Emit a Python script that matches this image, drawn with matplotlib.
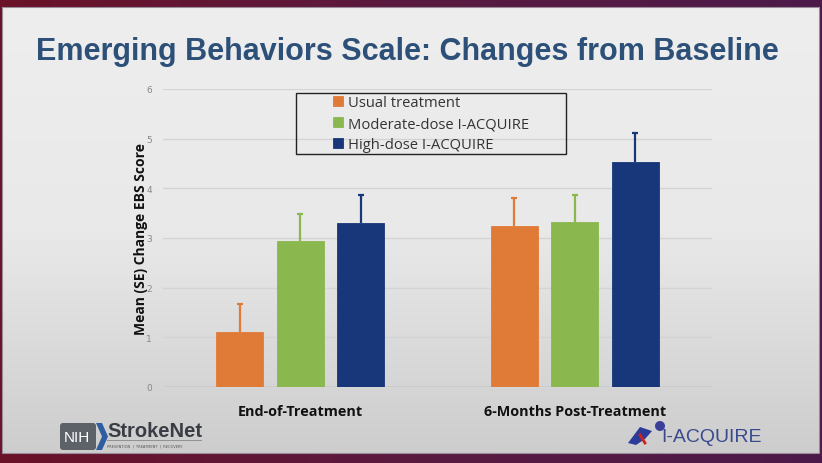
import numpy as np
import matplotlib.pyplot as plt
from matplotlib.colors import LinearSegmentedColormap
from matplotlib.patches import Rectangle, FancyBboxPatch, Polygon, Circle

# data
categories = ["End-of-Treatment", "6-Months Post-Treatment"]
series = ["Usual treatment", "Moderate-dose I-ACQUIRE", "High-dose I-ACQUIRE"]
usual = [1.11, 3.24]
moderate = [2.93, 3.32]
high = [3.30, 4.53]
usual_se = [0.56, 0.56]
moderate_se = [0.55, 0.54]
high_se = [0.56, 0.58]
yticks = [0, 1, 2, 3, 4, 5, 6]

colors = ["#E07B37", "#8BB74F", "#17377A"]

W, H = 822, 464
fig = plt.figure(figsize=(W / 100, H / 100), dpi=100)
fig.patch.set_facecolor("#4A0E22")

# slide background with a soft vertical gradient
bg = fig.add_axes([0, 0, 1, 1])
bg.set_xlim(0, W)
bg.set_ylim(H, 0)
bg.axis("off")
grad = np.linspace(0, 1, 256)[:, None]
frame = np.linspace(0, 1, 256)[None, :] * np.ones((64, 1))
bg.imshow(frame, cmap=LinearSegmentedColormap.from_list("fr", ["#6A1228", "#5A1A40", "#4C1A4A"]),
          extent=[0, W, H, 0], aspect="auto")
bg.imshow(grad, cmap=LinearSegmentedColormap.from_list("sl", ["#EEEEEE", "#E9E9E9", "#CDCDCD"]),
          extent=[2, 819, 454, 8], aspect="auto")
bg.add_patch(Rectangle((2, 8), 817, 446, fill=False, edgecolor="#9A8A9A", lw=0.8))

# title
bg.text(407, 52, "Emerging Behaviors Scale: Changes from Baseline", ha="center", va="center",
        fontsize=22, fontweight="bold", color="#2D5079", family="Liberation Sans")

# logos (text approximations)
bg.add_patch(FancyBboxPatch((60, 424), 36, 27, boxstyle="round,pad=0,rounding_size=3",
                            facecolor="#5D6268", edgecolor="none"))
bg.add_patch(Polygon([[96, 424], [102, 424], [108, 437.5], [102, 451], [96, 451], [102, 437.5]],
                     closed=True, facecolor="#2F5DA0", edgecolor="none"))
bg.text(77, 438, "NIH", ha="center", va="center", fontsize=11, color="white", family="Liberation Sans")
bg.text(107, 432, "StrokeNet", ha="left", va="center", fontsize=14.5, fontweight="bold",
        color="#3A3E44", family="Liberation Sans")
bg.plot([107, 201], [441, 441], color="#888888", lw=0.6)
bg.text(107, 447, "PREVENTION  |  TREATMENT  |  RECOVERY", ha="left", va="center", fontsize=2.6,
        color="#555555")
bg.add_patch(Circle((660, 427), 5, facecolor="#3C3F9A", edgecolor="none"))
bg.add_patch(Polygon([[628, 444], [640, 428], [652, 432], [645, 440], [636, 446]], closed=True,
                     facecolor="#2A3B9A", edgecolor="none"))
bg.plot([640, 645], [436, 444], color="#D02020", lw=2)
bg.text(661, 438, "I-ACQUIRE", ha="left", va="center", fontsize=14, color="#3A4A8E",
        family="Liberation Sans")

# chart
ax = fig.add_axes([163 / W, 1 - 388 / H, (712 - 163) / W, (388 - 90) / H])
ax.patch.set_alpha(0)
x = np.arange(len(categories))
width = 0.171
step = 0.22
vals = [usual, moderate, high]
errs = [usual_se, moderate_se, high_se]
for i, (v, e, c, name) in enumerate(zip(vals, errs, colors, series)):
    bars = ax.bar(x + (i - 1) * step, v, width, color=c, edgecolor=c, linewidth=0.6, label=name,
                  yerr=[np.zeros(len(e)), e], ecolor=c, capsize=2.5,
                  error_kw=dict(elinewidth=1.6, capthick=1.6), zorder=3)
    caps = bars.errorbar.lines[1]
    if len(caps) > 1:
        caps[0].set_visible(False)  # only upper cap

ax.set_xlim(-0.5, 1.5)
ax.set_ylim(0, 6)
ax.set_yticks(yticks)
ax.yaxis.grid(True, color="#D4D4D4", linewidth=1.0, zorder=0)
ax.axhline(0, color="#C8C8C8", lw=1.2, zorder=1)
for s in ax.spines.values():
    s.set_visible(False)
ax.tick_params(axis="y", length=0, labelsize=6.5, labelcolor="#888888", pad=8)
ax.tick_params(axis="x", length=0, pad=12)
ax.set_xticks(x)
ax.set_xticklabels(categories, fontsize=10.4, fontweight="bold", color="#111111", family="Open Sans")
ax.set_ylabel("Mean (SE) Change EBS Score", fontsize=10, fontweight="bold", color="#111111",
              family="Open Sans", labelpad=-1)

# legend: frame drawn separately to match the wide box
bx0, bx1, by0, by1 = 296, 566, 94, 155
ax.add_patch(Rectangle(((bx0 - 163) / 549, (388 - by1) / 298), (bx1 - bx0) / 549, (by1 - by0) / 298,
                       transform=ax.transAxes, fill=False, edgecolor="#222222", lw=1.0, zorder=5))
leg = ax.legend(loc="upper left", bbox_to_anchor=((326 - 163) / 549, (388 - 89) / 298),
                frameon=False, handlelength=0.65, handleheight=0.65, handletextpad=0.35,
                borderpad=0.0, labelspacing=0.4, prop=dict(family="Open Sans", size=10.6))
for t in leg.get_texts():
    t.set_color("#333333")

fig.savefig("out.png", dpi=100)
